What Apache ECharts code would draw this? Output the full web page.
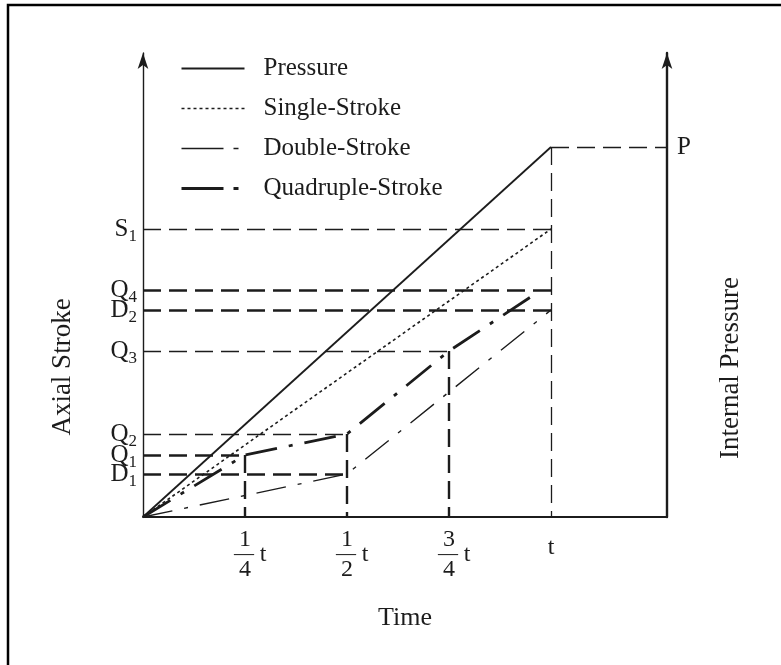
<!DOCTYPE html>
<html><head><meta charset="utf-8">
<script src="https://cdn.jsdelivr.net/npm/echarts@6/dist/echarts.min.js"></script>
<style>html,body{margin:0;padding:0;background:#fff}#c{width:781px;height:665px}</style>
</head><body><div id="c"></div>
<script>
// ---- data (x in units of t, y in arbitrary stroke/pressure units) ----
const seriesNames = ['Pressure', 'Single-Stroke', 'Double-Stroke', 'Quadruple-Stroke'];
const pressureX = [0, 1];
const pressureY = [0, 370];
const singleX = [0, 1];
const singleY = [0, 288];
const doubleX = [0, 0.5, 1];
const doubleY = [0, 43, 207];
const quadX = [0, 0.25, 0.5, 0.75, 0.95];
const quadY = [0, 62, 83, 166, 220];

const levelNames = ['S', 'Q', 'D', 'Q', 'Q', 'Q', 'D'];
const levelSubs = ['1', '4', '2', '3', '2', '1', '1'];
const levelValues = [288, 227, 207, 166, 83, 62, 43];
const levelEndX = [1, 1, 1, 0.75, 0.5, 0.25, 0.5];
const levelHeavy = [false, true, true, false, false, true, true];

const dropX = [0.25, 0.5, 0.75, 1];
const dropY = [62, 83, 166, 370];
const dropHeavy = [true, true, true, false];

const pLevel = 370;
const pLabel = 'P';
const xMax = 1.2843;
const yMax = 464;

const tickValues = [0.25, 0.5, 0.75, 1];
const tickNum = ['1', '1', '3', ''];
const tickDen = ['4', '2', '4', ''];

// ---- chart ----
const INK = '#1c1c1c';
const FONT = "'Liberation Serif', 'DejaVu Serif', serif";
const chart = echarts.init(document.getElementById('c'), null, {renderer: 'canvas'});
const pairs = (xs, ys) => xs.map((x, i) => [x, ys[i]]);

const refLines = [];
levelValues.forEach((v, i) => {
  refLines.push([
    {coord: [0, v],
     lineStyle: {color: INK, width: levelHeavy[i] ? 2.6 : 1.3, type: [18, 8]},
     label: {show: true, position: 'start', distance: 6,
             formatter: '{m|' + levelNames[i] + '}{s|' + levelSubs[i] + '}'}},
    {coord: [levelEndX[i], v]}
  ]);
});
dropX.forEach((x, i) => {
  refLines.push([
    {coord: [x, dropY[i]],
     lineStyle: {color: INK, width: dropHeavy[i] ? 2.4 : 1.3, type: [18, 8]},
     label: {show: false}},
    {coord: [x, 0]}
  ]);
});
refLines.push([
  {coord: [1, pLevel], lineStyle: {color: INK, width: 1.3, type: [18, 8]},
   label: {show: true, position: 'end', distance: 10, formatter: '{m|' + pLabel + '}'}},
  {coord: [xMax, pLevel]}
]);

const tickRich = {
  sp: {width: 14, fontSize: 20, fontFamily: FONT, lineHeight: 8},
  n: {width: 20, align: 'center', fontSize: 24, fontFamily: FONT, color: INK, lineHeight: 22},
  bar: {width: 20, align: 'center', fontSize: 20, fontFamily: FONT, color: INK, lineHeight: 8},
  t: {width: 14, align: 'left', fontSize: 24, fontFamily: FONT, color: INK, lineHeight: 8, padding: [0, 0, 0, 2]}
};

const legendStyles = [
  {width: 2, type: 'solid'},
  {width: 1.6, type: [3, 3]},
  {width: 1.4, type: [42, 10, 5, 30]},
  {width: 3, type: [42, 10, 5, 30]}
];

chart.setOption({
  animation: false,
  backgroundColor: '#fff',
  grid: {left: 143, right: 114, top: 53, bottom: 148, containLabel: false},
  legend: {
    data: seriesNames.map((n, i) => ({name: n, lineStyle: Object.assign({color: INK}, legendStyles[i])})),
    orient: 'vertical', left: 180, top: 56, padding: 0,
    itemWidth: 63, itemHeight: 14, itemGap: 15,
    itemStyle: {opacity: 0},
    textStyle: {fontFamily: FONT, fontSize: 25, color: INK, padding: [0, 0, 0, 14]}
  },
  xAxis: {
    type: 'value', min: 0, max: xMax, interval: 0.25,
    name: 'Time', nameLocation: 'middle', nameGap: 88,
    nameTextStyle: {fontFamily: FONT, fontSize: 26, color: INK},
    axisLine: {lineStyle: {color: INK, width: 2}},
    axisTick: {show: false}, splitLine: {show: false},
    axisLabel: {
      margin: 12, showMaxLabel: false,
      formatter: function (val) {
        const i = tickValues.findIndex(t => Math.abs(t - val) < 1e-6);
        if (i < 0) return '';
        if (tickNum[i] === '') return '{sp| }\n{n|t}\n{sp| }';
        return '{sp| }{n|' + tickNum[i] + '}{sp| }\n{sp| }{bar|—}{t|t}\n{sp| }{n|' + tickDen[i] + '}{sp| }';
      },
      rich: tickRich
    }
  },
  yAxis: [
    {type: 'value', min: 0, max: yMax, position: 'left',
     axisLine: {show: true, onZero: false, symbol: ['none', 'arrow'], symbolSize: [8, 16],
                lineStyle: {color: INK, width: 1.4}},
     axisTick: {show: false}, axisLabel: {show: false}, splitLine: {show: false}},
    {type: 'value', min: 0, max: yMax, position: 'right',
     axisLine: {show: true, onZero: false, symbol: ['none', 'arrow'], symbolSize: [8, 16],
                lineStyle: {color: INK, width: 2.4}},
     axisTick: {show: false}, axisLabel: {show: false}, splitLine: {show: false}}
  ],
  series: [
    {name: seriesNames[0], type: 'line', showSymbol: false, symbol: 'none', z: 5,
     data: pairs(pressureX, pressureY), lineStyle: {color: INK, width: 1.8, type: 'solid'},
     itemStyle: {color: INK}},
    {name: seriesNames[1], type: 'line', showSymbol: false, symbol: 'none', z: 5,
     data: pairs(singleX, singleY), lineStyle: {color: INK, width: 1.6, type: [3, 3]},
     itemStyle: {color: INK}},
    {name: seriesNames[2], type: 'line', showSymbol: false, symbol: 'none', z: 5,
     data: pairs(doubleX, doubleY), lineStyle: {color: INK, width: 1.4, type: [30, 12, 4, 12]},
     itemStyle: {color: INK}},
    {name: seriesNames[3], type: 'line', showSymbol: false, symbol: 'none', z: 5,
     data: pairs(quadX, quadY), lineStyle: {color: INK, width: 2.8, type: [32, 12, 4, 12]},
     itemStyle: {color: INK}},
    {name: 'refs', type: 'line', data: [], z: 3,
     markLine: {
       silent: true, symbol: ['none', 'none'], animation: false,
       label: {fontFamily: FONT, color: INK,
               rich: {m: {fontSize: 25, fontFamily: FONT, color: INK},
                      s: {fontSize: 17, fontFamily: FONT, color: INK, padding: [16, 0, 0, 0]}}},
       emphasis: {disabled: true},
       data: refLines
     }}
  ],
  graphic: [
    {type: 'polyline', shape: {points: [[8, 665], [8, 5], [781, 5]]},
     style: {stroke: '#000', lineWidth: 2.5, fill: null}},
    {type: 'text', x: 63, y: 367, rotation: Math.PI / 2,
     style: {text: 'Axial Stroke', font: "27px " + FONT, fill: INK, align: 'center', verticalAlign: 'middle'}},
    {type: 'text', x: 731, y: 368, rotation: Math.PI / 2,
     style: {text: 'Internal Pressure', font: "27px " + FONT, fill: INK, align: 'center', verticalAlign: 'middle'}}
  ]
});
</script>
</body></html>
